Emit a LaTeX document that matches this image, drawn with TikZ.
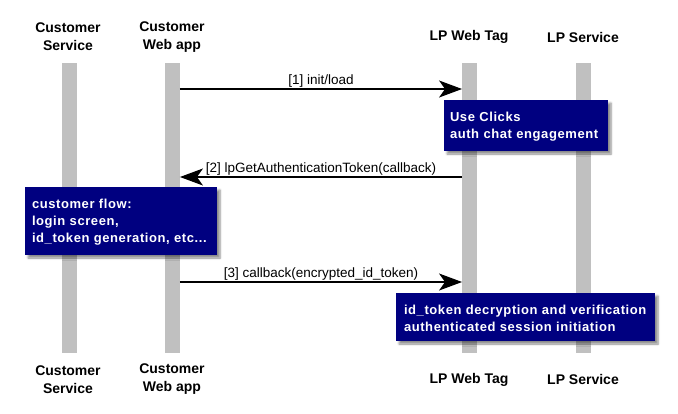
\documentclass[tikz,border=0pt]{standalone}
\usepackage{fontspec}
\setmainfont{Liberation Sans}
\newfontfamily\headfont{Liberation Sans}
\newfontfamily\notefont[LetterSpace=4.5]{Liberation Sans}
\usetikzlibrary{arrows.meta,shadows.blur}
\definecolor{notebg}{HTML}{000080}
\definecolor{lifegray}{HTML}{C0C0C0}
\begin{document}
\begin{tikzpicture}[x=1pt,y=-1pt,
  head/.style={font=\headfont\bfseries\fontsize{14}{18}\selectfont, align=center, inner sep=0pt},
  life/.style={fill=lifegray, draw=none, minimum width=14.5pt, minimum height=290pt, inner sep=0pt},
  msg/.style={-{Stealth[length=23pt,width=17pt,inset=6pt]}, line width=1.3pt},
  msglabel/.style={font=\fontsize{13.5}{16}\selectfont, inner sep=1pt, above},
  note/.style={fill=notebg, text=white, draw=none, font=\notefont\bfseries\fontsize{13}{17}\selectfont,
    align=left, inner ysep=0pt, text height=12pt,
    blur shadow={shadow xshift=3pt, shadow yshift=-3pt, shadow blur steps=6, shadow opacity=45}}
]
\useasboundingbox (0,0) rectangle (678,413);
% lifelines
\node[life] (cs)  at (69.5,208) {};
\node[life] (cwa) at (172.5,208) {};
\node[life] (lwt) at (469.5,208) {};
\node[life] (lps) at (583.5,208) {};
% headers
\node[head] (hcs)  at (68,37)  {Customer\\Service};
\node[head] (hcwa) at (172,37) {Customer\\Web app};
\node[head] (hlwt) at (469,37) {LP Web Tag};
\node[head] (hlps) at (583,37) {LP Service};
\node[head] (fcs)  at (68,379.5)  {Customer\\Service};
\node[head] (fcwa) at (172,379.5) {Customer\\Web app};
\node[head] (flwt) at (469,379.5) {LP Web Tag};
\node[head] (flps) at (583,379.5) {LP Service};
% messages
\draw[msg] (cwa.east |- {(0,89)}) -- node[msglabel] {[1] init/load} (lwt.west |- {(0,89)});
\node[note, inner xsep=6pt, text width=152pt, minimum height=51pt, text depth=21pt] (n1) at (526,125.5) {Use Clicks\\auth chat engagement};
\draw[msg] (lwt.west |- {(0,177)}) -- node[msglabel] {[2] lpGetAuthenticationToken(callback)} (cwa.east |- {(0,177)});
\node[note, inner xsep=7pt, text width=178pt, minimum height=68pt, text depth=38pt] (n2) at (121,221) {customer flow:\\login screen,\\id\_token generation, etc...};
\draw[msg] (cwa.east |- {(0,282)}) -- node[msglabel] {[3] callback(encrypted\_id\_token)} (lwt.west |- {(0,282)});
\node[note, inner xsep=8pt, text width=243pt, minimum height=48pt, text depth=18pt] (n3) at (525.5,317) {id\_token decryption and verification\\authenticated session initiation};
\end{tikzpicture}
\end{document}
